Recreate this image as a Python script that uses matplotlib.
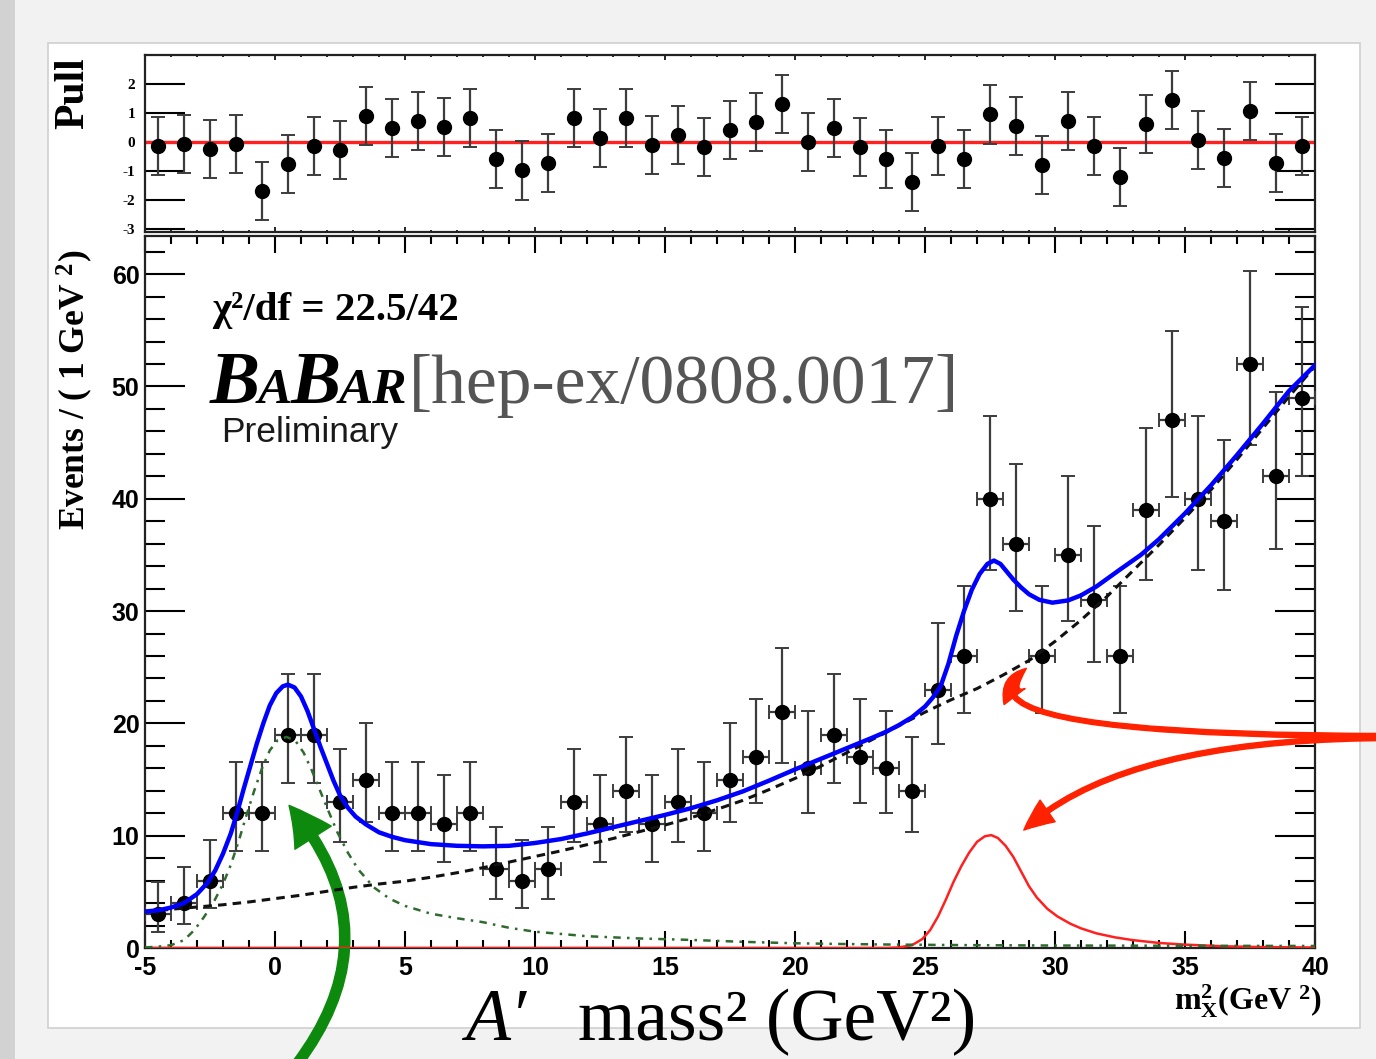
import matplotlib
matplotlib.use("Agg")
import matplotlib.pyplot as plt
from matplotlib.patches import Rectangle
from matplotlib.ticker import MultipleLocator

# --- datos ---

# centros de bin (1 GeV^2)
bin_x = [-4.5, -3.5, -2.5, -1.5, -0.5, 0.5, 1.5, 2.5, 3.5, 4.5, 5.5, 6.5, 7.5,
         8.5, 9.5, 10.5, 11.5, 12.5, 13.5, 14.5, 15.5, 16.5, 17.5, 18.5, 19.5,
         20.5, 21.5, 22.5, 23.5, 24.5, 25.5, 26.5, 27.5, 28.5, 29.5, 30.5, 31.5,
         32.5, 33.5, 34.5, 35.5, 36.5, 37.5, 38.5, 39.5]
eventos = [3, 4, 6, 12, 12, 19, 19, 13, 15, 12, 12, 11, 12, 7, 6, 7, 13, 11, 14,
           11, 13, 12, 15, 17, 21, 16, 19, 17, 16, 14, 23, 26, 40, 36, 26, 35, 31,
           26, 39, 47, 40, 38, 52, 42, 49]
err_abajo = [1.6, 1.9, 2.4, 3.4, 3.4, 4.3, 4.3, 3.6, 3.8, 3.4, 3.4, 3.3, 3.4,
             2.6, 2.4, 2.6, 3.6, 3.3, 3.7, 3.3, 3.6, 3.4, 3.8, 4.1, 4.5, 4.0,
             4.3, 4.1, 4.0, 3.7, 4.8, 5.1, 6.3, 6.0, 5.1, 5.9, 5.5, 5.1, 6.2,
             6.8, 6.3, 6.1, 7.2, 6.5, 7.0]
err_arriba = [2.9, 3.2, 3.6, 4.6, 4.6, 5.4, 5.4, 4.7, 5.0, 4.6, 4.6, 4.4, 4.6,
              3.8, 3.6, 3.8, 4.7, 4.4, 4.8, 4.4, 4.7, 4.6, 5.0, 5.2, 5.7, 5.1,
              5.4, 5.2, 5.1, 4.8, 5.9, 6.2, 7.4, 7.1, 6.2, 7.0, 6.6, 6.2, 7.3,
              7.9, 7.4, 7.2, 8.3, 7.5, 8.1]
pulls = [-0.15, -0.08, -0.23, -0.08, -1.69, -0.77, -0.15, -0.26, 0.89, 0.5,
         0.71, 0.52, 0.83, -0.6, -0.98, -0.72, 0.83, 0.15, 0.83, -0.11, 0.25,
         -0.17, 0.4, 0.69, 1.32, 0.0, 0.5, -0.17, -0.6, -1.38, -0.13, -0.6,
         0.95, 0.54, -0.78, 0.72, -0.15, -1.2, 0.61, 1.44, 0.06, -0.54, 1.07,
         -0.71, -0.15]

# ajuste total (azul)
total_x = [-5.0, -4.5, -4.0, -3.5, -3.0, -2.6, -2.3, -2.0, -1.7, -1.45, -1.2,
           -0.95, -0.7, -0.45, -0.2, 0.05, 0.3, 0.5, 0.75, 1.0, 1.25, 1.5, 1.75,
           2.0, 2.25, 2.5, 2.8, 3.1, 3.5, 4.0, 4.5, 5.0, 6.0, 7.0, 8.0, 9.0,
           10.0, 11.0, 12.0, 13.0, 14.0, 15.0, 16.0, 17.0, 18.0, 19.0, 20.0,
           21.0, 22.0, 23.0, 23.5, 24.0, 24.5, 25.0, 25.3, 25.6, 25.9, 26.2,
           26.5, 26.8, 27.1, 27.4, 27.65, 27.9, 28.15, 28.4, 28.7, 29.0, 29.4,
           29.9, 30.5, 31.0, 31.6, 32.5, 33.3, 34.0, 35.0, 36.0, 37.0, 38.0,
           39.0, 40.0]
total_y = [3.25, 3.35, 3.6, 4.0, 4.8, 5.8, 6.9, 8.4, 10.2, 12.1, 14.2, 16.2,
           18.2, 20.0, 21.6, 22.7, 23.3, 23.45, 23.2, 22.4, 21.1, 19.5, 17.9,
           16.4, 14.9, 13.6, 12.5, 11.7, 11.0, 10.3, 9.9, 9.6, 9.25, 9.1, 9.05,
           9.1, 9.35, 9.7, 10.2, 10.75, 11.3, 11.85, 12.45, 13.15, 13.95, 14.9,
           15.9, 16.85, 17.8, 18.75, 19.25, 19.85, 20.55, 21.5, 22.3, 23.3, 25.3,
           27.8, 30.0, 31.9, 33.3, 34.2, 34.5, 34.2, 33.5, 32.8, 32.1, 31.5,
           31.0, 30.75, 30.95, 31.4, 32.2, 33.7, 35.0, 36.4, 38.7, 41.2, 43.9,
           46.7, 49.6, 51.9]

# fondo (negro discontinuo)
fondo_x = [-5, -4, -3, -2, -1, 0, 1, 2, 3, 4, 5, 6, 7, 8, 9, 10, 11, 12, 13,
           14, 15, 16, 17, 18, 19, 20, 21, 22, 23, 24, 25, 26, 27, 28, 29, 30,
           31, 32, 33, 34, 35, 36, 37, 38, 39, 40]
fondo_y = [3.2, 3.45, 3.65, 3.85, 4.1, 4.4, 4.7, 5.05, 5.4, 5.7, 5.95, 6.3,
           6.7, 7.15, 7.65, 8.15, 8.65, 9.2, 9.75, 10.35, 10.95, 11.6, 12.35,
           13.15, 14.1, 15.1, 16.2, 17.4, 18.6, 19.8, 21.0, 22.1, 23.1, 24.3,
           25.6, 27.3, 29.2, 31.3, 33.6, 35.9, 38.3, 40.8, 43.5, 46.3, 49.1,
           51.8]

# pico en ~0 (verde punto-raya)
pico0_x = [-5.0, -4.5, -4.0, -3.5, -3.1, -2.75, -2.4, -2.0, -1.7, -1.4, -1.1,
           -0.8, -0.5, -0.2, 0.1, 0.45, 0.8, 1.1, 1.4, 1.7, 2.0, 2.4, 2.8, 3.2,
           3.8, 4.4, 5.0, 6.0, 7.0, 8.0, 9.0, 10.0, 12.0, 14.0, 16.0, 18.0,
           20.0, 22.0, 24.0, 27.0, 30.0, 35.0, 40.0]
pico0_y = [0.05, 0.12, 0.25, 0.7, 1.6, 2.7, 3.9, 5.7, 7.4, 9.5, 11.8, 14.0,
           16.0, 17.6, 18.5, 18.8, 18.4, 17.4, 15.9, 14.2, 12.5, 10.3, 8.5,
           7.0, 5.4, 4.4, 3.75, 3.05, 2.65, 2.3, 1.8, 1.45, 1.05, 0.85, 0.72,
           0.55, 0.42, 0.35, 0.3, 0.25, 0.22, 0.2, 0.18]

# senal en ~27.5 (roja)
senal_x = [-5.0, 23.5, 24.0, 24.5, 24.9, 25.2, 25.5, 25.8, 26.1, 26.4, 26.7,
           27.0, 27.3, 27.55, 27.8, 28.1, 28.4, 28.7, 29.0, 29.3, 29.7, 30.1,
           30.6, 31.0, 31.6, 32.3, 33.0, 34.0, 35.0, 36.5, 38.0, 40.0]
senal_y = [0.0, 0.0, 0.05, 0.25, 0.8, 1.6, 2.8, 4.3, 5.9, 7.3, 8.5, 9.45, 9.95,
           10.05, 9.8, 9.1, 8.1, 6.8, 5.5, 4.5, 3.5, 2.8, 2.15, 1.75, 1.3, 0.95,
           0.7, 0.45, 0.3, 0.15, 0.08, 0.04]

# --- estilo ---
plt.rcParams['font.family'] = ['Liberation Sans', 'DejaVu Sans']
plt.rcParams['font.weight'] = 'bold'
plt.rcParams['axes.unicode_minus'] = False
plt.rcParams['mathtext.fontset'] = 'custom'
plt.rcParams['mathtext.rm'] = 'Liberation Serif:bold'
plt.rcParams['mathtext.bf'] = 'Liberation Serif:bold'
plt.rcParams['mathtext.it'] = 'Liberation Serif:italic:bold'

W, H = 1376, 1059
fig = plt.figure(figsize=(W / 100, H / 100), dpi=100, facecolor='#f2f2f2')

# marco de la diapositiva
fig.add_artist(Rectangle((48 / W, 1 - 1028 / H), (1360 - 48) / W, (1028 - 43) / H,
                         transform=fig.transFigure, facecolor='white',
                         edgecolor='#d0d0d0', lw=1.2, zorder=-2))
fig.add_artist(Rectangle((0, 0), 15 / W, 1, transform=fig.transFigure,
                         facecolor='#d2d2d2', edgecolor='none', zorder=-2))

ax = fig.add_axes([145 / W, 1 - 948 / H, 1170 / W, 712 / H])
axp = fig.add_axes([145 / W, 1 - 232 / H, 1170 / W, 177 / H])

gris = '#3c3c3c'

# --- panel principal ---
ax.errorbar(bin_x, eventos, yerr=[err_abajo, err_arriba], xerr=0.5, fmt='o',
            color='black', ms=10, ecolor=gris, elinewidth=1.6, capsize=5,
            capthick=1.4, zorder=3)
ax.plot(senal_x, senal_y, color='#ff2020', lw=1.8, zorder=4)
ax.plot(pico0_x, pico0_y, color='#2f6a2f', lw=1.8, ls=(0, (3, 2.5, 1, 2.5)), zorder=4)
ax.plot(fondo_x, fondo_y, color='#111111', lw=2.2, ls=(0, (2.8, 2)), zorder=4)
ax.plot(total_x, total_y, color='#0000ff', lw=3.2, zorder=5)

ax.set_xlim(-5, 40)
ax.set_ylim(0, 63.4)
ax.xaxis.set_major_locator(MultipleLocator(5))
ax.xaxis.set_minor_locator(MultipleLocator(1))
ax.yaxis.set_major_locator(MultipleLocator(10))
ax.yaxis.set_minor_locator(MultipleLocator(2))
ax.tick_params(axis='y', which='major', direction='in', length=28.8, width=1.5,
               left=True, right=True, labelsize=18, pad=4)
ax.tick_params(axis='y', which='minor', direction='in', length=14.4, width=1.5,
               left=True, right=True)
ax.tick_params(axis='x', which='major', direction='in', length=12, width=1.5,
               bottom=True, top=True, labelsize=18, pad=6)
ax.tick_params(axis='x', which='minor', direction='in', length=6, width=1.5,
               bottom=True, top=True)

# --- panel de pulls ---
axp.axhline(0, color='#ff2020', lw=2.4, zorder=2)
axp.errorbar(bin_x, pulls, yerr=1, fmt='o', color='black', ms=10, ecolor=gris,
             elinewidth=1.6, capsize=5, capthick=1.4, zorder=3)
axp.set_xlim(-5, 40)
axp.set_ylim(-3.1, 3.0)
axp.xaxis.set_major_locator(MultipleLocator(5))
axp.xaxis.set_minor_locator(MultipleLocator(1))
axp.set_yticks([2, 1, 0, -1, -2, -3], labels=['2', '1', '0', '-1', '-2', '-3'],
               fontfamily='Liberation Serif', fontweight='bold', fontsize=11)
axp.tick_params(axis='y', which='major', direction='in', length=28.8, width=1.5,
                left=True, right=True, pad=7)
axp.tick_params(axis='x', which='major', direction='in', length=3.5, width=1.2,
                bottom=True, top=True, labelbottom=False)
axp.tick_params(axis='x', which='minor', direction='in', length=1.5, width=1.2,
                bottom=True, top=True)

for a in (ax, axp):
    for s in a.spines.values():
        s.set_linewidth(1.6)
        s.set_color('#222222')

# --- textos ---
serif = ['Liberation Serif', 'DejaVu Serif']
fig.text(73 / W, 1 - 93 / H, 'Pull', rotation=90, ha='center', va='center',
         fontfamily=serif, fontweight='bold', fontsize=30)
fig.text(75 / W, 1 - 250 / H, r'Events / ( 1 GeV $^{\mathbf{2}}$)', rotation=90,
         ha='center', va='top', fontfamily=serif, fontweight='bold', fontsize=25.5)
fig.text(1322 / W, 1 - 1010 / H, r'$\mathbf{m}_{\mathbf{X}}^{\mathbf{2}}$(GeV $^{\mathbf{2}}$)',
         ha='right', va='baseline', fontfamily=serif, fontweight='bold', fontsize=23)

fig.text(212 / W, 1 - 320 / H, 'χ²/df = 22.5/42', va='baseline',
         fontfamily=serif, fontweight='bold', fontsize=29.5)

renderer = fig.canvas.get_renderer()
xpos = 210
for letras, tam in [('B', 54), ('A', 37), ('B', 54), ('AR', 37)]:
    t = fig.text(xpos / W, 1 - 403 / H, letras, va='baseline', fontfamily=serif,
                 fontweight='bold', fontstyle='italic', fontsize=tam)
    xpos = t.get_window_extent(renderer).x1 - 2
fig.text((xpos + 4) / W, 1 - 403 / H, '[hep-ex/0808.0017]', va='baseline',
         fontfamily=serif, fontweight='normal', fontsize=50, color='#555555')
fig.text(221 / W, 1 - 442 / H, 'Preliminary', va='baseline',
         fontfamily=['Liberation Sans', 'DejaVu Sans'], fontweight='normal',
         fontsize=25.5, color='#1a1a1a')

fig.text(465 / W, 1 - 1040 / H, 'A′', va='baseline', fontfamily=serif,
         fontweight='normal', fontstyle='italic', fontsize=53)
fig.text(578 / W, 1 - 1040 / H, 'mass² (GeV²)', va='baseline', fontfamily=serif,
         fontweight='normal', fontsize=53)

# --- flechas ---
ax.annotate('', xy=(0.54, 12.7), xycoords='data', xytext=(297, -5),
            textcoords='figure pixels', annotation_clip=False,
            arrowprops=dict(arrowstyle='simple,head_length=2.9,head_width=3.1,tail_width=0.72',
                            mutation_scale=10, connectionstyle='arc3,rad=0.4',
                            color='#0d8a0d', shrinkA=0, shrinkB=0))
ax.annotate('', xy=(28.9, 24.9), xycoords='data', xytext=(1395, 323),
            textcoords='figure pixels', annotation_clip=False,
            arrowprops=dict(arrowstyle='simple,head_length=2.2,head_width=1.9,tail_width=0.36',
                            mutation_scale=10, connectionstyle='angle3,angleA=0,angleB=37',
                            color='#ff2200', shrinkA=0, shrinkB=0))
ax.annotate('', xy=(28.8, 10.5), xycoords='data', xytext=(1395, 321),
            textcoords='figure pixels', annotation_clip=False,
            arrowprops=dict(arrowstyle='simple,head_length=2.2,head_width=1.9,tail_width=0.36',
                            mutation_scale=10, connectionstyle='angle3,angleA=0,angleB=43',
                            color='#ff2200', shrinkA=0, shrinkB=0))

fig.savefig('out.png', dpi=100, facecolor=fig.get_facecolor())
